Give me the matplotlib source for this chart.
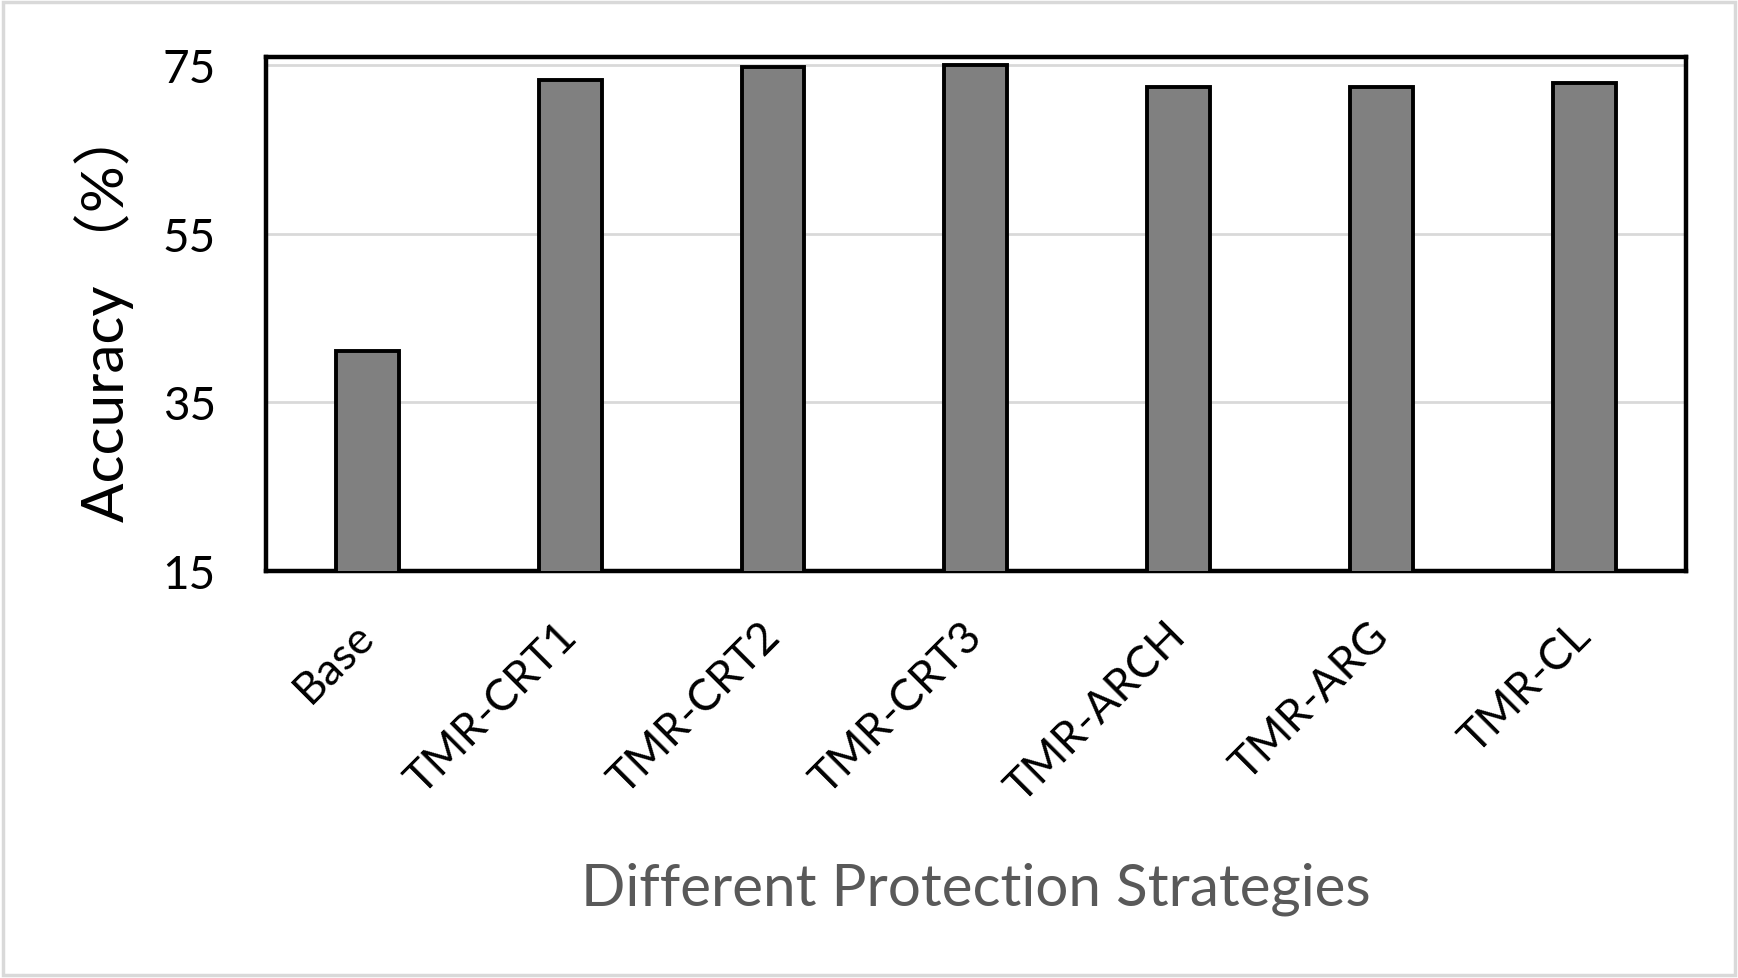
import numpy as np
import matplotlib
matplotlib.use('Agg')
import matplotlib.pyplot as plt
from matplotlib.patches import Rectangle

# Chart data
strategies = ['Base', 'TMR-CRT1', 'TMR-CRT2', 'TMR-CRT3', 'TMR-ARCH', 'TMR-ARG', 'TMR-CL']
accuracy = [41.1, 73.2, 74.8, 75.0, 72.4, 72.4, 72.9]
y_ticks = [15, 35, 55, 75]

plt.rcParams['font.family'] = ['Lato', 'Noto Sans CJK SC', 'DejaVu Sans']

fig = plt.figure(figsize=(17.38, 9.79), dpi=100)
ax = fig.add_axes([0.153, 0.416, 0.817, 0.525])

# light grey frame round the whole picture
fig.patches.append(Rectangle((0.002, 0.003), 0.996, 0.994, transform=fig.transFigure,
                             fill=False, edgecolor='#d9d9d9', linewidth=2.5))

x = np.arange(len(strategies))
ax.bar(x, accuracy, width=0.31, bottom=0, color='#808080', edgecolor='black',
       linewidth=2.8, zorder=3)

ax.set_xlim(-0.5, len(strategies) - 0.5)
ax.set_ylim(15, 76)
ax.set_yticks(y_ticks)
ax.set_yticklabels([str(t) for t in y_ticks], fontsize=33)
ax.tick_params(axis='y', length=0, pad=36)
ax.yaxis.grid(True, color='#d9d9d9', linewidth=2, zorder=0)
ax.set_axisbelow(True)

ax.set_xticks(x)
ax.set_xticklabels(strategies, rotation=45, ha='right', va='center',
                   rotation_mode='anchor', fontsize=32)
ax.tick_params(axis='x', length=0, pad=42)

for sp in ax.spines.values():
    sp.set_linewidth(3.2)
    sp.set_color('black')

ax.set_ylabel('Accuracy （%）', fontsize=42, color='black')
ax.yaxis.set_label_coords(-0.093, 0.50)
ax.set_xlabel('Different Protection Strategies', fontsize=42, color='#595959')
ax.xaxis.set_label_coords(0.5, -0.565)

fig.savefig('out.png', dpi=100)
